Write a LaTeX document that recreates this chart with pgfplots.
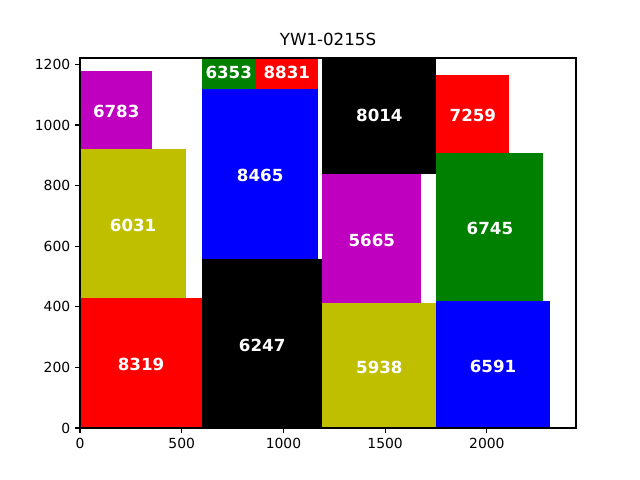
\documentclass[border=0pt]{standalone}
\usepackage{pgfplots}
\pgfplotsset{compat=1.18}
\usepackage{fontspec}
\setmainfont{DejaVu Sans}
\definecolor{mr}{rgb}{1,0,0}
\definecolor{my}{rgb}{0.75,0.75,0}
\definecolor{mm}{rgb}{0.75,0,0.75}
\definecolor{mg}{rgb}{0,0.5,0}
\definecolor{mb}{rgb}{0,0,1}
\definecolor{mk}{rgb}{0,0,0}
\newcommand{\rect}[5]{\addplot[fill=#1, draw=none] coordinates {(#2,#4) (#3,#4) (#3,#5) (#2,#5) (#2,#4)} -- cycle;}
\newcommand{\lab}[5]{\node[text=white, font=\fontsize{12}{14}\selectfont\bfseries, anchor=center, yshift=-1.2pt] at (axis cs:{(#2+#3)/2},{(#4+#5)/2}) {#1};}
\begin{document}
\begin{tikzpicture}
\begin{axis}[
  at={(0,0)}, anchor=south west,
  scale only axis,
  width=357.12pt, height=266.4pt,
  xmin=0, xmax=2438, ymin=0, ymax=1221,
  xtick={0,500,1000,1500,2000},
  ytick={0,200,400,600,800,1000,1200},
  tick pos=left,
  tick align=outside,
  major tick length=3.5pt,
  every tick/.style={black, line width=0.8pt},
  axis line style={line width=0.8pt},
  axis on top,
  ticklabel style={font=\fontsize{10}{12}\selectfont},
  /pgf/number format/assume math mode=true,
  /pgf/number format/1000 sep={},
  title={YW1-0215S},
  title style={font=\fontsize{12}{14}\selectfont, yshift=-1pt},
  xticklabel style={yshift=-0.5pt},
]
\rect{mr}{0}{600}{0}{430}
\rect{my}{0}{522}{430}{920}
\rect{mm}{0}{356}{920}{1178}
\rect{mk}{600}{1191}{0}{559}
\rect{mb}{600}{1171}{559}{1120}
\rect{mg}{600}{862}{1120}{1240}
\rect{mr}{862}{1171}{1120}{1240}
\rect{my}{1191}{1752}{0}{413}
\rect{mm}{1191}{1678}{413}{838}
\rect{mk}{1191}{1752}{838}{1238}
\rect{mb}{1752}{2308}{0}{418}
\rect{mg}{1752}{2278}{418}{907}
\rect{mr}{1752}{2110}{907}{1166}
\lab{8319}{0}{600}{0}{430}
\lab{6031}{0}{522}{430}{920}
\lab{6783}{0}{356}{920}{1178}
\lab{6247}{600}{1191}{0}{559}
\lab{8465}{600}{1171}{559}{1120}
\lab{6353}{600}{862}{1120}{1240}
\lab{8831}{862}{1171}{1120}{1240}
\lab{5938}{1191}{1752}{0}{413}
\lab{5665}{1191}{1678}{413}{838}
\lab{8014}{1191}{1752}{838}{1238}
\lab{6591}{1752}{2308}{0}{418}
\lab{6745}{1752}{2278}{418}{907}
\lab{7259}{1752}{2110}{907}{1166}
\end{axis}
\path (-57.6pt,-37.44pt) rectangle (403.2pt,308.16pt);
\end{tikzpicture}
\end{document}
